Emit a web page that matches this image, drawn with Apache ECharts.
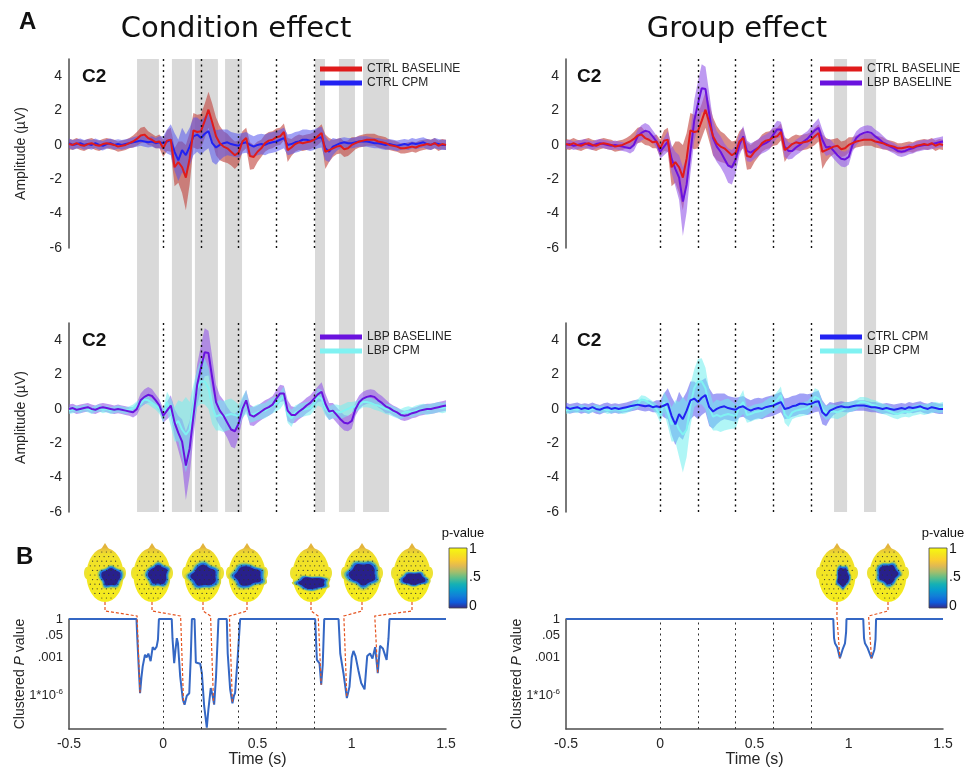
<!DOCTYPE html>
<html>
<head>
<meta charset="utf-8">
<script src="https://cdn.jsdelivr.net/npm/echarts@6.0.0/dist/echarts.min.js"></script>
<style>
html, body { margin: 0; padding: 0; background: #fff; }
#chart { width: 966px; height: 770px; }
</style>
</head>
<body>
<div id="chart"></div>
<script>
// sample times of the averaged C2 waveforms (20 ms steps, -0.5 .. 1.5 s)
var times = [];
for (var i = 0; i <= 100; i++) times.push(Math.round((-0.5 + i * 0.02) * 100) / 100);

// group averages (µV) and half width of the shaded band
var ctrlBaseMean = [
  0.05, 0.0, 0.1, 0.0, -0.05, 0.05, 0.1, 0.0, -0.05, 0.05,
  0.1, 0.05, 0.0, -0.1, -0.05, 0.0, 0.1, 0.2, 0.35, 0.55,
  0.6, 0.4, 0.3, 0.15, 0.2, -0.2, 0.25, 0.3, -1.3, -1.0,
  -1.3, -1.9, -0.8, 0.85, 0.75, 0.8, 1.4, 2.05, 1.3, 0.5,
  0.1, -0.1, -0.2, -0.4, -0.6, -0.45, 0.2, 0.4, -0.65, -0.7,
  -0.4, -0.2, 0.1, 0.25, 0.3, 0.45, 0.5, 0.75, -0.3, -0.15,
  0.05, 0.15, 0.1, 0.15, 0.2, 0.3, 0.5, 0.7, -0.4, -0.3,
  -0.2, -0.1, -0.05, -0.25, -0.2, 0.0, 0.1, 0.2, 0.25, 0.3,
  0.3, 0.3, 0.2, 0.15, 0.1, 0.0, -0.05, -0.1, -0.2, -0.2,
  -0.15, -0.1, -0.15, -0.05, 0.0, 0.05, 0.0, 0.1, -0.05, 0.05,
  0.0
];
var ctrlBaseSd = [
  0.3, 0.3, 0.3, 0.3, 0.3, 0.3, 0.3, 0.3, 0.3, 0.3,
  0.3, 0.3, 0.3, 0.3, 0.3, 0.3, 0.3, 0.35, 0.4, 0.45,
  0.45, 0.4, 0.35, 0.35, 0.4, 0.5, 0.6, 0.7, 1.1, 1.2,
  1.5, 1.9, 1.5, 1.0, 1.0, 1.0, 1.0, 1.05, 1.1, 1.1,
  1.0, 0.9, 0.85, 0.8, 0.8, 0.7, 0.6, 0.6, 0.8, 0.7,
  0.6, 0.5, 0.5, 0.5, 0.5, 0.5, 0.5, 0.5, 0.7, 0.5,
  0.45, 0.45, 0.45, 0.45, 0.45, 0.45, 0.5, 0.5, 1.0, 0.7,
  0.5, 0.45, 0.45, 0.45, 0.45, 0.45, 0.35, 0.35, 0.35, 0.35,
  0.35, 0.35, 0.35, 0.35, 0.35, 0.3, 0.3, 0.3, 0.3, 0.3,
  0.3, 0.3, 0.3, 0.3, 0.3, 0.3, 0.3, 0.3, 0.3, 0.3,
  0.3
];
var ctrlCpmMean = [
  0.1, 0.0, 0.05, 0.1, 0.0, 0.05, 0.0, 0.1, 0.0, -0.05,
  0.05, 0.1, 0.0, 0.05, 0.0, 0.05, 0.1, 0.15, 0.2, 0.25,
  0.2, 0.15, 0.2, 0.1, 0.15, 0.1, 0.2, 0.3, -0.4, -0.9,
  -0.3, -0.6, -0.1, 0.5, 0.6, 0.4, 0.65, 0.8, 0.1, -0.15,
  0.0, 0.1, 0.15, 0.05, 0.0, -0.05, 0.1, 0.15, 0.0, -0.1,
  0.0, 0.05, 0.0, 0.1, 0.15, 0.2, 0.3, 0.4, 0.0, 0.05,
  0.15, 0.2, 0.3, 0.3, 0.25, 0.3, 0.4, 0.45, -0.2, -0.4,
  -0.1, 0.0, 0.1, 0.15, 0.1, 0.1, 0.15, 0.2, 0.2, 0.2,
  0.15, 0.1, 0.1, 0.05, 0.0, 0.05, 0.0, -0.05, 0.0, 0.05,
  0.0, 0.1, 0.05, 0.1, 0.15, 0.05, 0.0, 0.1, 0.05, 0.0,
  0.0
];
var ctrlCpmSd = [
  0.28, 0.28, 0.28, 0.28, 0.28, 0.28, 0.28, 0.28, 0.28, 0.28,
  0.28, 0.28, 0.28, 0.28, 0.28, 0.28, 0.28, 0.3, 0.3, 0.3,
  0.3, 0.3, 0.3, 0.3, 0.35, 0.4, 0.7, 0.9, 1.1, 1.2,
  1.3, 1.2, 1.1, 1.1, 1.0, 1.0, 1.0, 1.0, 1.1, 1.0,
  0.9, 0.8, 0.75, 0.7, 0.7, 0.7, 0.6, 0.6, 0.6, 0.6,
  0.6, 0.6, 0.6, 0.6, 0.6, 0.6, 0.6, 0.6, 0.6, 0.6,
  0.6, 0.6, 0.6, 0.6, 0.6, 0.6, 0.6, 0.6, 0.7, 0.6,
  0.5, 0.35, 0.3, 0.3, 0.3, 0.3, 0.3, 0.3, 0.3, 0.3,
  0.3, 0.3, 0.3, 0.3, 0.3, 0.3, 0.3, 0.3, 0.3, 0.3,
  0.3, 0.3, 0.3, 0.3, 0.3, 0.3, 0.3, 0.3, 0.3, 0.3,
  0.3
];
var lbpBaseMean = [
  0.0, 0.05, -0.05, 0.0, 0.05, 0.1, 0.0, -0.05, 0.05, 0.1,
  0.05, 0.0, -0.05, 0.0, -0.05, -0.1, -0.15, -0.2, 0.0, 0.5,
  0.7, 0.82, 0.76, 0.5, 0.2, -0.4, -0.1, 0.2, -0.8, -1.4,
  -1.9, -3.3, -2.3, -0.45, 1.4, 2.4, 3.3, 3.25, 1.8, 0.4,
  -0.1, -0.4, -0.8, -1.2, -1.3, -0.85, 0.0, 0.5, -0.35, -0.45,
  -0.3, -0.15, 0.0, 0.1, 0.25, 0.6, 0.9, 0.9, -0.1, -0.35,
  -0.35, -0.15, 0.0, 0.2, 0.35, 0.6, 0.85, 1.0, 0.3, -0.15,
  -0.1, -0.35, -0.6, -0.8, -0.85, -0.7, 0.0, 0.4, 0.6, 0.7,
  0.75, 0.7, 0.5, 0.35, 0.15, 0.05, -0.1, -0.2, -0.35, -0.4,
  -0.35, -0.25, -0.2, -0.1, -0.05, 0.0, 0.0, 0.05, 0.1, 0.15,
  0.2
];
var lbpBaseSd = [
  0.25, 0.25, 0.25, 0.25, 0.25, 0.25, 0.25, 0.25, 0.25, 0.25,
  0.25, 0.25, 0.25, 0.25, 0.25, 0.25, 0.25, 0.3, 0.35, 0.4,
  0.45, 0.45, 0.4, 0.35, 0.35, 0.4, 0.5, 0.6, 0.8, 1.0,
  1.3, 2.0, 1.6, 1.2, 1.2, 1.3, 1.4, 1.3, 1.2, 1.0,
  0.9, 0.9, 0.9, 1.0, 1.0, 0.8, 0.6, 0.6, 0.6, 0.55,
  0.5, 0.5, 0.5, 0.5, 0.5, 0.5, 0.5, 0.45, 0.6, 0.5,
  0.45, 0.45, 0.45, 0.45, 0.45, 0.45, 0.45, 0.55, 0.6, 0.5,
  0.45, 0.45, 0.45, 0.45, 0.45, 0.45, 0.4, 0.4, 0.4, 0.4,
  0.4, 0.4, 0.4, 0.4, 0.4, 0.3, 0.3, 0.3, 0.3, 0.3,
  0.3, 0.3, 0.3, 0.3, 0.3, 0.3, 0.3, 0.3, 0.3, 0.3,
  0.3
];
var lbpCpmMean = [
  -0.1, -0.05, 0.0, -0.05, 0.05, 0.0, -0.1, 0.0, 0.05, -0.05,
  0.0, -0.1, -0.05, 0.0, -0.05, -0.1, -0.05, 0.05, 0.2, 0.3,
  0.55, 0.5, 0.35, 0.2, 0.0, -0.4, 0.4, -0.2, -0.9, -0.7,
  -1.2, -1.5, -1.2, 0.2, 1.2, 1.6, 1.6, 1.2, 0.1, -0.45,
  -0.35, -0.45, -0.35, -0.3, -0.35, -0.45, 0.1, 0.4, -0.35, -0.3,
  -0.2, -0.15, -0.1, 0.05, 0.2, 0.3, 0.5, 0.8, -0.3, -0.55,
  -0.2, -0.1, -0.05, 0.0, 0.05, 0.3, 0.7, 0.6, 0.0, -0.25,
  -0.15, -0.15, -0.2, -0.1, 0.0, 0.1, 0.15, 0.25, 0.4, 0.4,
  0.35, 0.25, 0.2, 0.1, 0.0, -0.05, -0.15, -0.25, -0.3, -0.2,
  -0.15, -0.2, -0.1, -0.05, 0.0, -0.05, 0.0, 0.05, 0.1, 0.05,
  0.1
];
var lbpCpmSd = [
  0.2, 0.2, 0.2, 0.2, 0.2, 0.2, 0.2, 0.2, 0.2, 0.2,
  0.2, 0.2, 0.2, 0.2, 0.2, 0.2, 0.2, 0.2, 0.25, 0.25,
  0.25, 0.25, 0.25, 0.25, 0.3, 0.4, 0.6, 0.8, 1.0, 1.2,
  1.6, 2.2, 1.6, 1.2, 1.1, 1.3, 1.35, 1.2, 1.0, 0.8,
  0.9, 0.9, 0.9, 0.9, 0.8, 0.7, 0.6, 0.7, 0.45, 0.45,
  0.45, 0.45, 0.45, 0.45, 0.45, 0.45, 0.5, 0.5, 0.5, 0.5,
  0.4, 0.4, 0.4, 0.4, 0.4, 0.4, 0.5, 0.5, 0.4, 0.4,
  0.4, 0.4, 0.4, 0.4, 0.4, 0.3, 0.3, 0.3, 0.3, 0.3,
  0.3, 0.3, 0.3, 0.3, 0.3, 0.3, 0.3, 0.3, 0.3, 0.3,
  0.3, 0.3, 0.3, 0.3, 0.3, 0.3, 0.3, 0.3, 0.3, 0.3,
  0.3
];

// vertical dotted guides (s)
var dotTimes = [0, 0.2, 0.4, 0.6, 0.8];

// significant clusters (s) shaded in gray
var condClusters = [[-0.139, -0.023], [0.046, 0.152], [0.168, 0.290], [0.328, 0.418], [0.805, 0.858], [0.932, 1.017], [1.060, 1.198]];
var groupClusters = [[0.922, 0.991], [1.081, 1.145]];

// clustered p value, as [time, log10(p)]
var condLogP = [
  [-0.5, 0], [-0.142, 0], [-0.138, -1.4], [-0.13, -3.8], [-0.123, -5.8], [-0.116, -4.6], [-0.109, -3.7],
  [-0.097, -2.8], [-0.088, -3.0], [-0.079, -2.7], [-0.067, -3.3], [-0.056, -2.2], [-0.046, -2.4],
  [-0.035, -2.16], [-0.028, -1.6], [-0.023, 0], [0.045, 0], [0.049, -1.5], [0.058, -3.46], [0.065, -2.4],
  [0.072, -1.5], [0.078, -1.9], [0.09, -4.5], [0.104, -6.3], [0.113, -6.7], [0.125, -6.0], [0.138, -5.8],
  [0.146, -3.0], [0.152, 0], [0.166, 0], [0.173, -3.4], [0.196, -3.5], [0.205, -4.24], [0.217, -6.8],
  [0.231, -8.5], [0.24, -7.0], [0.252, -5.4], [0.262, -6.0], [0.27, -6.7], [0.28, -4.5], [0.293, 0],
  [0.337, 0], [0.342, -2.7], [0.355, -5.5], [0.367, -6.6], [0.375, -6.0], [0.381, -5.8], [0.395, -3.0],
  [0.408, 0], [0.806, 0], [0.815, -3.2], [0.829, -3.46], [0.838, -5.14], [0.846, -3.6], [0.854, 0],
  [0.93, 0], [0.939, -2.7], [0.956, -4.24], [0.974, -6.18], [0.988, -5.3], [1.0, -3.0], [1.009, -2.5],
  [1.02, -2.9], [1.035, -4.0], [1.05, -5.0], [1.068, -5.5], [1.076, -4.0], [1.082, -2.9], [1.097, -2.7],
  [1.11, -3.1], [1.124, -2.2], [1.138, -4.24], [1.15, -2.1], [1.165, -2.3], [1.185, -3.2], [1.195, -1.5],
  [1.2, 0], [1.5, 0]
];
var groupLogP = [
  [-0.5, 0], [0.918, 0], [0.922, -1.5], [0.927, -1.9], [0.939, -2.2], [0.953, -3.07], [0.967, -2.4],
  [0.98, -1.9], [0.986, -1.0], [0.988, 0], [1.077, 0], [1.081, -1.5], [1.086, -1.9], [1.098, -2.2],
  [1.121, -3.07], [1.136, -2.4], [1.142, -1.6], [1.145, 0], [1.5, 0]
];
// cluster minima that the topographies point to
var condPeaks = [[-0.123, -5.8], [0.108, -6.6], [0.267, -6.6], [0.367, -6.6], [0.838, -5.14], [0.974, -6.18], [1.138, -4.24]];
var groupPeaks = [[0.953, -3.07], [1.121, -3.07]];

var pTickValues = [0, Math.log10(0.05), -3, -6];
var pTickLabels = ['1', '.05', '.001', '{b|1*10}{s|-6}'];
var cbarLabels = ['1', '.5', '0'];

var conds = {
  ctrlBase: { name: 'CTRL BASELINE', mean: ctrlBaseMean, sd: ctrlBaseSd, line: '#e01b1b', band: 'rgba(192,64,56,0.6)' },
  ctrlCpm: { name: 'CTRL CPM', mean: ctrlCpmMean, sd: ctrlCpmSd, line: '#2222f2', band: 'rgba(84,84,238,0.55)' },
  lbpBase: { name: 'LBP BASELINE', mean: lbpBaseMean, sd: lbpBaseSd, line: '#6a12de', band: 'rgba(146,86,232,0.6)' },
  lbpCpm: { name: 'LBP CPM', mean: lbpCpmMean, sd: lbpCpmSd, line: '#80f2f2', band: 'rgba(112,238,238,0.55)' }
};
var panels = [
  { g: 0, pair: ['ctrlBase', 'ctrlCpm'] },
  { g: 1, pair: ['ctrlBase', 'lbpBase'] },
  { g: 2, pair: ['lbpBase', 'lbpCpm'] },
  { g: 3, pair: ['ctrlCpm', 'lbpCpm'] }
];

var font = 'Liberation Sans';
var ink = '#262626';
var axisColor = '#4d4d4d';

var chart = echarts.init(document.getElementById('chart'));

var grids = [
  { left: 69, top: 59, width: 377, height: 189 },
  { left: 566, top: 59, width: 377, height: 189 },
  { left: 69, top: 323, width: 377, height: 189 },
  { left: 566, top: 323, width: 377, height: 189 },
  { left: 69, top: 619, width: 377, height: 110 },
  { left: 566, top: 619, width: 377, height: 110 },
  { left: 69, top: 59, width: 377, height: 453 },
  { left: 566, top: 59, width: 377, height: 453 }
];

var xAxes = grids.map(function (gr, g) {
  var ax = { type: 'value', gridIndex: g, min: -0.5, max: 1.5, show: false, splitLine: { show: false } };
  if (g === 4 || g === 5) {
    ax.show = true;
    ax.interval = 0.5;
    ax.axisLine = { show: true, onZero: false, lineStyle: { color: axisColor, width: 1.5 } };
    ax.axisTick = { show: false };
    ax.axisLabel = { fontSize: 14, color: ink, margin: 8 };
    ax.name = 'Time (s)';
    ax.nameLocation = 'middle';
    ax.nameGap = 23;
    ax.nameTextStyle = { fontSize: 16, color: ink };
  }
  return ax;
});

var yAxes = grids.map(function (gr, g) {
  if (g < 4) {
    return {
      type: 'value', gridIndex: g, min: -6, max: 5, interval: 2,
      axisLine: { show: true, onZero: false, lineStyle: { color: axisColor, width: 1.5 } },
      axisTick: { show: false },
      splitLine: { show: false },
      axisLabel: { fontSize: 14, color: ink, margin: 7, formatter: function (v) { return v === 5 ? '' : String(v); } },
      name: g % 2 === 0 ? 'Amplitude (µV)' : '',
      nameLocation: 'middle', nameGap: 41, nameMoveOverlap: false,
      nameTextStyle: { fontSize: 14, color: ink }
    };
  }
  if (g < 6) {
    return {
      type: 'value', gridIndex: g, min: -8.6, max: 0,
      axisLine: { show: true, onZero: false, lineStyle: { color: axisColor, width: 1.5 } },
      axisTick: { show: false },
      splitLine: { show: false },
      axisLabel: {
        customValues: pTickValues, fontSize: 13, color: ink, margin: 6,
        formatter: function (v) {
          var k = 0, best = 1e9;
          pTickValues.forEach(function (t, j) { if (Math.abs(t - v) < best) { best = Math.abs(t - v); k = j; } });
          return pTickLabels[k];
        },
        rich: {
          b: { fontSize: 13, color: ink },
          s: { fontSize: 8, color: ink, padding: [0, 0, 8, 0] }
        }
      },
      name: '{n|Clustered }{i|P}{n| value}',
      nameLocation: 'middle', nameGap: 42, nameMoveOverlap: false,
      nameTextStyle: {
        fontSize: 14, color: ink,
        rich: { n: { fontSize: 14, color: ink }, i: { fontSize: 14, color: ink, fontStyle: 'italic' } }
      }
    };
  }
  return { type: 'value', gridIndex: g, min: 0, max: 1, show: false };
});

var dotted = function (color, width) {
  return {
    silent: true, symbol: 'none', label: { show: false },
    lineStyle: { type: [2, 3.5], color: color, width: width },
    data: dotTimes.map(function (t) { return { xAxis: t }; })
  };
};

function pairs(arr) { return times.map(function (t, i) { return [t, arr[i]]; }); }

// shaded band between mean - sd and mean + sd, drawn as one polygon
function bandSeries(g, c) {
  var upper = times.map(function (t, i) { return [t, c.mean[i] + c.sd[i]]; });
  var lower = times.map(function (t, i) { return [t, c.mean[i] - c.sd[i]]; }).reverse();
  var outline = upper.concat(lower);
  return {
    type: 'custom', xAxisIndex: g, yAxisIndex: g, silent: true, z: 2, clip: true,
    data: [[times[0], c.mean[0]]],
    renderItem: function (params, api) {
      return {
        type: 'polygon',
        shape: { points: outline.map(function (p) { return api.coord(p); }) },
        style: { fill: c.band }
      };
    }
  };
}

var series = [];
// gray cluster windows, spanning both ERP rows
[condClusters, groupClusters].forEach(function (cl, j) {
  series.push({
    type: 'line', xAxisIndex: 6 + j, yAxisIndex: 6 + j, data: [[-0.5, 0]], symbol: 'none', silent: true, z: 1,
    lineStyle: { opacity: 0 },
    markArea: {
      silent: true, itemStyle: { color: '#d9d9d9' },
      data: cl.map(function (c) { return [{ xAxis: c[0] }, { xAxis: c[1] }]; })
    }
  });
});

panels.forEach(function (p) {
  p.pair.forEach(function (key) { series.push(bandSeries(p.g, conds[key])); });
  [1, 0].forEach(function (j) {
    var c = conds[p.pair[j]];
    var s = {
      type: 'line', name: c.name, xAxisIndex: p.g, yAxisIndex: p.g, symbol: 'none', silent: true,
      data: pairs(c.mean), itemStyle: { color: c.line }, lineStyle: { color: c.line, width: 2 }, z: 3
    };
    if (j === 0) s.markLine = dotted('#111', 1.4);
    series.push(s);
  });
});

[condLogP, groupLogP].forEach(function (d, j) {
  series.push({
    type: 'line', xAxisIndex: 4 + j, yAxisIndex: 4 + j, data: d, symbol: 'none', silent: true,
    lineStyle: { color: '#3467c4', width: 2 }, z: 3,
    markLine: dotted('#333', 1)
  });
});

var legends = panels.map(function (p) {
  return {
    data: p.pair.map(function (k) { return conds[k].name; }),
    orient: 'vertical', left: p.g % 2 ? 820 : 320, top: p.g < 2 ? 63 : 331,
    padding: 0, itemGap: 2, icon: 'rect', itemWidth: 42, itemHeight: 5, selectedMode: false,
    textStyle: { fontSize: 12, color: ink, fontFamily: font }
  };
});

chart.setOption({
  animation: false,
  backgroundColor: '#fff',
  textStyle: { fontFamily: font },
  grid: grids,
  xAxis: xAxes,
  yAxis: yAxes,
  legend: legends,
  series: series
});

// ---- annotations: titles, panel tags, topographies, colour bars ----
var gfx = [];
function txt(s, x, y, size, weight, align, family) {
  gfx.push({
    type: 'text', x: x, y: y, z: 20, silent: true,
    style: { text: s, fill: '#111', fontSize: size, fontWeight: weight || 'normal', fontFamily: family || font, align: align || 'left', verticalAlign: 'top' }
  });
}
txt('A', 19, 10, 24, 'bold');
txt('B', 16, 545, 24, 'bold');
txt('Condition effect', 236, 15, 29, 'normal', 'center', 'DejaVu Sans');
txt('Group effect', 737, 15, 29, 'normal', 'center', 'DejaVu Sans');
txt('C2', 82, 67, 19, 'bold');
txt('C2', 577, 67, 19, 'bold');
txt('C2', 82, 331, 19, 'bold');
txt('C2', 577, 331, 19, 'bold');

var parula = [
  { offset: 0, color: '#f9fb0e' }, { offset: 0.1, color: '#f5e51d' }, { offset: 0.2, color: '#fcce2e' },
  { offset: 0.3, color: '#e1b952' }, { offset: 0.4, color: '#a5be6b' }, { offset: 0.5, color: '#59bd8c' },
  { offset: 0.6, color: '#15b1b4' }, { offset: 0.7, color: '#079ccf' }, { offset: 0.8, color: '#127dd8' },
  { offset: 0.9, color: '#0f5cdd' }, { offset: 1, color: '#352a87' }
];
[449, 929].forEach(function (bx) {
  gfx.push({
    type: 'rect', z: 20, silent: true, shape: { x: bx, y: 548, width: 18, height: 60 },
    style: { fill: new echarts.graphic.LinearGradient(0, 0, 0, 1, parula), stroke: '#444', lineWidth: 0.8 }
  });
  txt('p-value', bx + 14, 527, 13, 'normal', 'center');
  cbarLabels.forEach(function (l, k) { txt(l, bx + 20, 542 + k * 28.5, 14, 'normal', 'left'); });
});

var wob = [1, 0.88, 1.06, 0.94, 1.12, 0.86, 1.0, 1.1, 0.9, 1.05, 0.93, 1.08];
var blobLayers = [
  { s: 1.36, fill: '#d2d43a' }, { s: 1.22, fill: '#5cbaa0' },
  { s: 1.1, fill: '#1e74e2' }, { s: 0.94, fill: '#28208c' }
];
var heads = [
  { x: 105, b: [6, 2, 10, 9] }, { x: 152, b: [6, 0, 10, 10] }, { x: 203, b: [1, 1, 13, 11] },
  { x: 247, b: [1, 1, 14, 10] }, { x: 311, b: [1, 8, 14, 6] }, { x: 362, b: [1, -1, 14, 11] },
  { x: 412, b: [2, 4, 12, 6] }, { x: 837, b: [6, 2, 6, 10] }, { x: 888, b: [0, -1, 10, 10] }
];
var headY = 575;
var headFill = new echarts.graphic.LinearGradient(0, 0, 0, 1, [
  { offset: 0, color: '#e6bd3e' }, { offset: 0.12, color: '#f0e02a' }, { offset: 1, color: '#f5ec1c' }
]);
heads.forEach(function (h, k) {
  var cx = h.x, cy = headY;
  gfx.push({ type: 'ellipse', z: 12, silent: true, shape: { cx: cx - 18, cy: cy - 2, rx: 3, ry: 6 }, style: { fill: '#ece236' } });
  gfx.push({ type: 'ellipse', z: 12, silent: true, shape: { cx: cx + 18, cy: cy - 2, rx: 3, ry: 6 }, style: { fill: '#ece236' } });
  gfx.push({ type: 'polygon', z: 12, silent: true, shape: { points: [[cx - 5, cy - 24], [cx, cy - 32], [cx + 5, cy - 24]] }, style: { fill: '#e3b43c' } });
  gfx.push({ type: 'ellipse', z: 13, silent: true, shape: { cx: cx, cy: cy, rx: 18.5, ry: 27 }, style: { fill: headFill } });
  blobLayers.forEach(function (L, li) {
    var pts = [];
    for (var a = 0; a < 12; a++) {
      var ang = a / 12 * 2 * Math.PI;
      var f = wob[(a + k * 5) % 12] * L.s;
      pts.push([cx + h.b[0] + Math.cos(ang) * h.b[2] * f, cy + h.b[1] + Math.sin(ang) * h.b[3] * f]);
    }
    gfx.push({ type: 'polygon', z: 14 + li * 0.1, silent: true, shape: { points: pts, smooth: 0.4 }, style: { fill: L.fill } });
  });
  var row = 0;
  for (var yy = -23; yy <= 23; yy += 4.6, row++) {
    for (var xx = -17; xx <= 17; xx += 4.6) {
      var ox = xx + (row % 2) * 2.3;
      if ((ox * ox) / (17 * 17) + (yy * yy) / (25.5 * 25.5) < 1) {
        gfx.push({ type: 'circle', z: 15, silent: true, shape: { cx: cx + ox, cy: cy + yy, r: 0.6 }, style: { fill: '#333' } });
      }
    }
  }
});

// dashed leaders from each topography to its cluster minimum
[[condPeaks, 4, 0], [groupPeaks, 5, 7]].forEach(function (set) {
  set[0].forEach(function (pk, j) {
    var px = chart.convertToPixel({ gridIndex: set[1] }, pk);
    var hx = heads[set[2] + j].x;
    gfx.push({
      type: 'polyline', z: 16, silent: true,
      shape: { points: [[hx, headY + 27], [hx, headY + 36], [px[0] - 3, 616], px] },
      style: { stroke: '#e5531f', lineWidth: 1.2, lineDash: [3, 2], fill: null }
    });
  });
});

chart.setOption({ graphic: gfx });
</script>
</body>
</html>
